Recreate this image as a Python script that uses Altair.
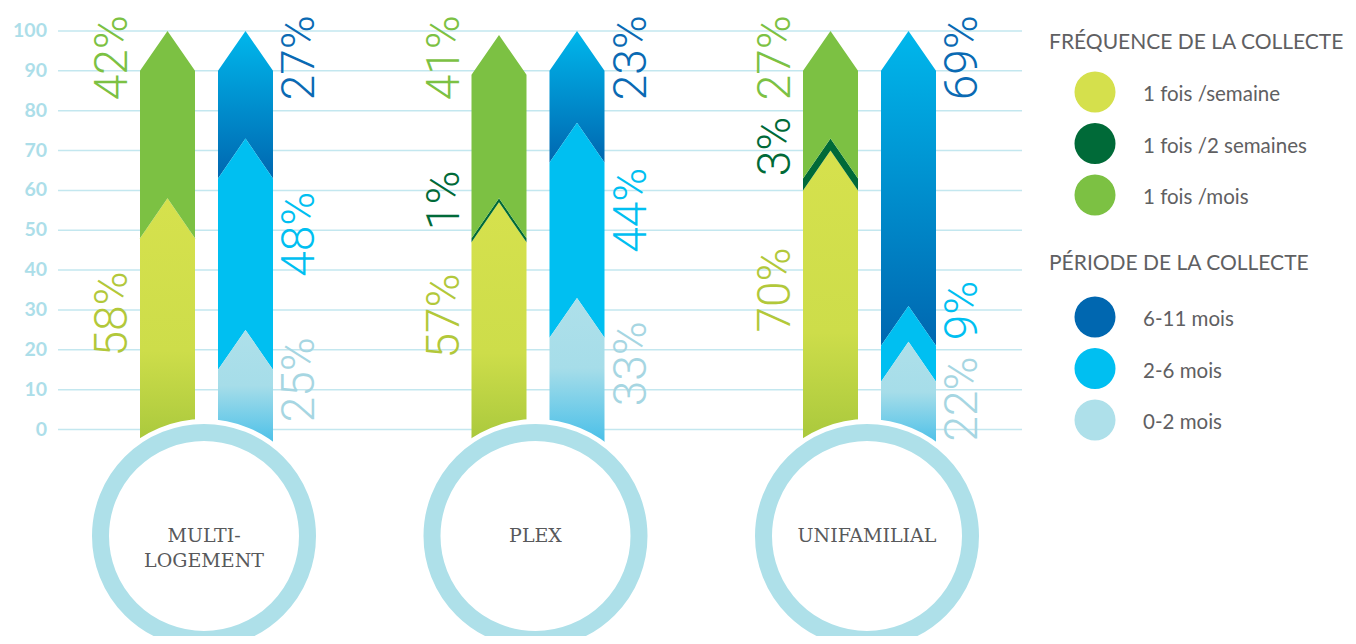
import altair as alt
import pandas as pd

# ---------------- data ----------------
groups = ["MULTI-\nLOGEMENT", "PLEX", "UNIFAMILIAL"]

freq_cats = ["1 fois /semaine", "1 fois /2 semaines", "1 fois /mois"]
freq_weekly = [58, 57, 70]
freq_biweekly = [0, 1, 3]
freq_monthly = [42, 41, 27]

period_cats = ["6-11 mois", "2-6 mois", "0-2 mois"]
period_6_11 = [27, 23, 69]
period_2_6 = [48, 44, 9]
period_0_2 = [25, 33, 22]

y_ticks = [0, 10, 20, 30, 40, 50, 60, 70, 80, 90, 100]
legend_titles = ["FRÉQUENCE DE LA COLLECTE", "PÉRIODE DE LA COLLECTE"]

# ---------------- styles ----------------
W, H = 1340, 628
PX_PER = 3.985          # pixels per percentage point
Y0 = 421.5              # pixel row of value 0
CAP = 10                # chevron depth in value units
BW = 55                 # bar width px
GAP = 78                # offset between the two bars of a group
STEP = 331.5            # group step px
FIRST = 132             # first bar left px

def val(py):
    return (Y0 - py) / PX_PER

fill_styles = {
    "1 fois /semaine": alt.Gradient(gradient="linear", x1=0, x2=0, y1=0, y2=1, stops=[
        alt.GradientStop(color="#d6e14d", offset=0),
        alt.GradientStop(color="#cddd4a", offset=0.6),
        alt.GradientStop(color="#a5c63b", offset=1)]),
    "1 fois /2 semaines": "#006a38",
    "1 fois /mois": "#7cc143",
    "0-2 mois": alt.Gradient(gradient="linear", x1=0, x2=0, y1=0, y2=1, stops=[
        alt.GradientStop(color="#aee0ea", offset=0),
        alt.GradientStop(color="#a6dde9", offset=0.45),
        alt.GradientStop(color="#3cbbe8", offset=1)]),
    "2-6 mois": "#00bff1",
    "6-11 mois": alt.Gradient(gradient="linear", x1=0, x2=0, y1=0, y2=1, stops=[
        alt.GradientStop(color="#00b7ec", offset=0),
        alt.GradientStop(color="#0067b0", offset=1)]),
}
dot_colors = {
    "1 fois /semaine": "#d5e04c", "1 fois /2 semaines": "#006a38", "1 fois /mois": "#7cc143",
    "6-11 mois": "#0067b0", "2-6 mois": "#00bff1", "0-2 mois": "#aee0ea",
}
text_colors = {
    "1 fois /semaine": "#b2c83a", "1 fois /2 semaines": "#006a38", "1 fois /mois": "#7cc143",
    "6-11 mois": "#0a6ab3", "2-6 mois": "#00bff1", "0-2 mois": "#a6d6e2",
}
all_cats = freq_cats + period_cats

FS = 46
def half_units(txt):
    n = len(txt) - 1
    return FS * (0.56 * n + 0.74) / 2 / PX_PER

def place(segs):
    halves = [half_units(s[3]) for s in segs]
    cs = [(s[1] + s[2]) / 2 for s in segs]
    top, low = 104, -5
    cs[-1] = top - halves[-1]
    n = len(segs)
    for _ in range(100):
        for k in range(n - 1):
            req = halves[k] + halves[k + 1] + 4
            d = cs[k + 1] - cs[k]
            if d < req:
                p = req - d
                if k + 1 == n - 1:
                    cs[k] -= p
                else:
                    cs[k] -= p / 2
                    cs[k + 1] += p / 2
        cs[0] = max(cs[0], low + halves[0])
        cs = [min(c, top - h) for c, h in zip(cs, halves)]
    return cs

xs = alt.Scale(domain=[0, W], nice=False, zero=False)
ys = alt.Scale(domain=[val(H), val(0)], nice=False, zero=False)

area_rows, label_rows = [], []
for g in range(len(groups)):
    gl = FIRST + STEP * g
    stacks = [
        ("freq", gl, list(zip(freq_cats, [freq_weekly[g], freq_biweekly[g], freq_monthly[g]]))),
        ("period", gl + GAP, list(zip(period_cats[::-1], [period_0_2[g], period_2_6[g], period_6_11[g]]))),
    ]
    for side, left, items in stacks:
        cum = 0
        segs = []
        for cat, v in items:
            if v <= 0:
                continue
            c0, c1 = cum, cum + v
            cum = c1
            key = f"{g}-{side}-{cat}"
            bot_side = -6 if c0 == 0 else c0 - CAP
            bot_mid = -6 if c0 == 0 else c0
            for x, yt, yb in [(left, c1 - CAP, bot_side), (left + BW / 2, c1, bot_mid), (left + BW, c1 - CAP, bot_side)]:
                area_rows.append({"key": key, "cat": cat, "x": x, "y": yt, "y2": yb})
            segs.append((cat, c0, c1, f"{v}%"))
        centers = place(segs)
        lx = left - 27 if side == "freq" else left + BW + 27
        for s, c in zip(segs, centers):
            label_rows.append({"cat": s[0], "txt": s[3], "x": lx, "y": c})

area_df = pd.DataFrame(area_rows)
label_df = pd.DataFrame(label_rows)

circle_df = pd.DataFrame({
    "name": groups,
    "cx": [FIRST + STEP * i + 64 for i in range(len(groups))],
    "cy": [val(528)] * len(groups),
})
tick_df = pd.DataFrame({"t": y_ticks})

leg_rows = []
for i, c in enumerate(freq_cats):
    leg_rows.append({"name": c, "y": val(84 + 51.5 * i)})
for i, c in enumerate(period_cats):
    leg_rows.append({"name": c, "y": val(309 + 51.5 * i)})
leg_df = pd.DataFrame(leg_rows)
title_df = pd.DataFrame({"t": legend_titles, "y": [val(34), val(255)]})

# ---------------- layers ----------------
grid = alt.Chart(tick_df).mark_rule(color="#c3e7ef", strokeWidth=1.5).encode(
    y=alt.Y("t:Q", scale=ys, axis=None), x=alt.value(50), x2=alt.value(1014))
tick_labels = alt.Chart(tick_df).mark_text(
    align="right", baseline="middle", font="Lato", fontWeight="bold", fontSize=19.5, color="#acdee9"
).encode(y=alt.Y("t:Q", scale=ys, axis=None), x=alt.value(39), text="t:Q")

areas = []
for cat in all_cats:
    sub = area_df[area_df["cat"] == cat]
    areas.append(alt.Chart(sub).mark_area(color=fill_styles[cat], opacity=1, interpolate="linear").encode(
        x=alt.X("x:Q", scale=xs, axis=None),
        y=alt.Y("y:Q", scale=ys, axis=None, stack=None),
        y2="y2:Q",
        detail="key:N"))

disc = alt.Chart(circle_df).mark_point(shape="circle", filled=True, size=234 ** 2, color="white",
                                        opacity=1, clip=True).encode(
    x=alt.X("cx:Q", scale=xs, axis=None), y=alt.Y("cy:Q", scale=ys, axis=None))
ring = alt.Chart(circle_df).mark_point(shape="circle", filled=False, size=207 ** 2, color="#aee0e9",
                                        strokeWidth=17, opacity=1, clip=True).encode(
    x=alt.X("cx:Q", scale=xs, axis=None), y=alt.Y("cy:Q", scale=ys, axis=None))
circle_text = alt.Chart(circle_df).mark_text(font="DejaVu Serif", fontSize=19, color="#58595b",
                                             lineBreak="\n", lineHeight=25, align="center",
                                             baseline="middle").encode(
    x=alt.X("cx:Q", scale=xs, axis=None), y=alt.Y("cy:Q", scale=ys, axis=None), text="name:N")

labels = alt.Chart(label_df).mark_text(angle=270, font="Roboto", fontWeight=300, fontSize=FS,
                                       align="center", baseline="middle").encode(
    x=alt.X("x:Q", scale=xs, axis=None), y=alt.Y("y:Q", scale=ys, axis=None), text="txt:N",
    fill=alt.Fill("cat:N", scale=alt.Scale(domain=all_cats, range=[text_colors[c] for c in all_cats]),
                  legend=None))

leg_dots = alt.Chart(leg_df).mark_point(shape="circle", filled=True, size=41 ** 2, opacity=1).encode(
    x=alt.value(1087), y=alt.Y("y:Q", scale=ys, axis=None),
    color=alt.Color("name:N", scale=alt.Scale(domain=all_cats, range=[dot_colors[c] for c in all_cats]),
                    legend=None))
leg_text = alt.Chart(leg_df).mark_text(align="left", baseline="middle", font="Lato", fontSize=20.5,
                                       dy=3, color="#5f6062").encode(
    x=alt.value(1135), y=alt.Y("y:Q", scale=ys, axis=None), text="name:N")
leg_title = alt.Chart(title_df).mark_text(align="left", baseline="middle", font="Lato", fontSize=21,
                                          dy=1, color="#5f6062").encode(
    x=alt.value(1041), y=alt.Y("y:Q", scale=ys, axis=None), text="t:N")

chart = alt.layer(grid, tick_labels, *areas, disc, ring, circle_text, labels,
                  leg_dots, leg_text, leg_title).resolve_scale(
    color="independent", fill="independent"
).properties(
    width=W, height=H, padding=0, autosize=alt.AutoSizeParams(type="none")
).configure_view(stroke=None)

chart.save("out.html", embed_options={"renderer": "svg", "actions": False})
